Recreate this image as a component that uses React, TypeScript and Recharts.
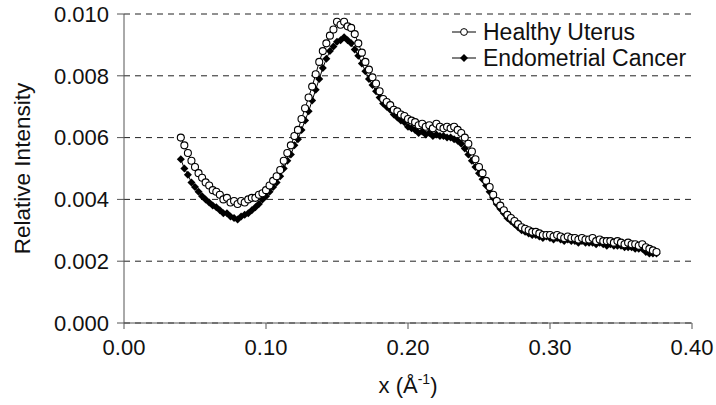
import React from "react";
import { LineChart, Line, XAxis, YAxis, CartesianGrid, Legend } from "recharts";

const xValues = [
  0.04, 0.0425, 0.045, 0.0475, 0.05, 0.0525, 0.055, 0.0575, 0.06, 0.0625,
  0.065, 0.0675, 0.07, 0.0725, 0.075, 0.0775, 0.08, 0.0825, 0.085, 0.0875,
  0.09, 0.0925, 0.095, 0.0975, 0.1, 0.1025, 0.105, 0.1075, 0.11, 0.1125,
  0.115, 0.1175, 0.12, 0.1225, 0.125, 0.1275, 0.13, 0.1325, 0.135, 0.1375,
  0.14, 0.1425, 0.145, 0.1475, 0.15, 0.1525, 0.155, 0.1575, 0.16, 0.1625,
  0.165, 0.1675, 0.17, 0.1725, 0.175, 0.1775, 0.18, 0.1825, 0.185, 0.1875,
  0.19, 0.1925, 0.195, 0.1975, 0.2, 0.2025, 0.205, 0.2075, 0.21, 0.2125,
  0.215, 0.2175, 0.22, 0.2225, 0.225, 0.2275, 0.23, 0.2325, 0.235, 0.2375,
  0.24, 0.2425, 0.245, 0.2475, 0.25, 0.2525, 0.255, 0.2575, 0.26, 0.2625,
  0.265, 0.2675, 0.27, 0.2725, 0.275, 0.2775, 0.28, 0.2825, 0.285, 0.2875,
  0.29, 0.2925, 0.295, 0.2975, 0.3, 0.3025, 0.305, 0.3075, 0.31, 0.3125,
  0.315, 0.3175, 0.32, 0.3225, 0.325, 0.3275, 0.33, 0.3325, 0.335, 0.3375,
  0.34, 0.3425, 0.345, 0.3475, 0.35, 0.3525, 0.355, 0.3575, 0.36, 0.3625,
  0.365, 0.3675, 0.37, 0.3725, 0.375,
];

const healthyUterus = [
  0.006, 0.00575, 0.0055, 0.00525, 0.00505, 0.00485, 0.0047, 0.00455, 0.00445, 0.0043,
  0.00425, 0.00415, 0.004, 0.00405, 0.0039, 0.00395, 0.00385, 0.00395, 0.0039, 0.004,
  0.00405, 0.00405, 0.00415, 0.0042, 0.0043, 0.00445, 0.0046, 0.00475, 0.00495, 0.00525,
  0.0055, 0.00575, 0.00605, 0.00625, 0.0066, 0.00695, 0.0073, 0.00765, 0.00805, 0.00845,
  0.0088, 0.00905, 0.0093, 0.0095, 0.00975, 0.00965, 0.00975, 0.0096, 0.00955, 0.00935,
  0.00905, 0.00875, 0.00845, 0.0082, 0.00795, 0.00775, 0.0075, 0.00725, 0.00715, 0.00705,
  0.0069, 0.00685, 0.00675, 0.0067, 0.0066, 0.00655, 0.0065, 0.0064, 0.00645, 0.00635,
  0.0064, 0.0063, 0.00645, 0.00635, 0.0063, 0.00635, 0.0063, 0.00635, 0.00625, 0.00615,
  0.006, 0.0058, 0.00555, 0.0053, 0.00505, 0.00485, 0.0046, 0.0044, 0.00415, 0.00395,
  0.0038, 0.00365, 0.0035, 0.0034, 0.0033, 0.0032, 0.0031, 0.00305, 0.003, 0.00295,
  0.00295, 0.0029, 0.00285, 0.00285, 0.00285, 0.0028, 0.00285, 0.0028, 0.00275, 0.0028,
  0.00275, 0.00275, 0.0027, 0.00275, 0.0027, 0.0027, 0.00275, 0.00265, 0.0027, 0.00265,
  0.00265, 0.00265, 0.0026, 0.00265, 0.0026, 0.00255, 0.0026, 0.00255, 0.00255, 0.0025,
  0.00255, 0.00245, 0.0024, 0.00235, 0.0023,
];

const endometrialCancer = [
  0.0053, 0.005, 0.0048, 0.00455, 0.0044, 0.00425, 0.0041, 0.004, 0.0039, 0.0038,
  0.00375, 0.00365, 0.00355, 0.00355, 0.00345, 0.0034, 0.00335, 0.00345, 0.0035, 0.00355,
  0.00365, 0.00375, 0.00385, 0.004, 0.0041, 0.00425, 0.0044, 0.00455, 0.00475, 0.005,
  0.00525, 0.00545, 0.00575, 0.00595, 0.00625, 0.00655, 0.00685, 0.0072, 0.00755, 0.0079,
  0.00825, 0.00855, 0.0088, 0.00895, 0.0091, 0.00915, 0.00925, 0.00915, 0.00905, 0.00885,
  0.00865, 0.0084, 0.00815, 0.0079, 0.0077, 0.0075, 0.0073, 0.0071, 0.007, 0.0069,
  0.00675, 0.00665, 0.00655, 0.0065, 0.00635, 0.0063, 0.00625, 0.00615, 0.0062, 0.0061,
  0.00615, 0.00605, 0.0061, 0.00605, 0.00605, 0.006, 0.006, 0.00595, 0.0059, 0.0058,
  0.00565, 0.00545, 0.00525, 0.00505, 0.00485, 0.00465, 0.00445, 0.00425, 0.00405, 0.00385,
  0.0037, 0.00355, 0.0034, 0.0033, 0.0032, 0.0031, 0.003, 0.00295, 0.0029, 0.00285,
  0.00285, 0.0028, 0.00275, 0.0028, 0.00275, 0.0027, 0.00275, 0.0027, 0.00265, 0.0027,
  0.00265, 0.00265, 0.0026, 0.00265, 0.0026, 0.0026, 0.0026, 0.00255, 0.0026, 0.00255,
  0.0025, 0.00255, 0.0025, 0.0025, 0.0025, 0.00245, 0.00245, 0.00245, 0.0024, 0.0024,
  0.0024, 0.0023, 0.00225, 0.00225, 0.00225,
];

const xTicks = [0, 0.1, 0.2, 0.3, 0.4];
const yTicks = [0, 0.002, 0.004, 0.006, 0.008, 0.01];
const seriesNames = ["Healthy Uterus", "Endometrial Cancer"];

const data = xValues.map((x, i) => ({
  x,
  healthy: healthyUterus[i],
  cancer: endometrialCancer[i],
}));

const FONT = '"Liberation Sans", Arial, Helvetica, sans-serif';

const HealthyDot = (p: any) => {
  const { cx, cy, index } = p;
  if (cx == null || cy == null) return <g key={`h${index}`} />;
  return <circle key={`h${index}`} cx={cx} cy={cy} r={3.5} fill="#fff" stroke="#000" strokeWidth={1.1} />;
};

const CancerDot = (p: any) => {
  const { cx, cy, index } = p;
  if (cx == null || cy == null) return <g key={`c${index}`} />;
  const s = 4;
  return (
    <path
      key={`c${index}`}
      d={`M${cx},${cy - s}L${cx + s},${cy}L${cx},${cy + s}L${cx - s},${cy}Z`}
      fill="#000"
    />
  );
};

const LegendContent = () => (
  <div style={{ fontFamily: FONT, fontSize: 23, color: "#111", lineHeight: "26px" }}>
    {seriesNames.map((name, i) => (
      <div key={name} style={{ display: "flex", alignItems: "center", whiteSpace: "nowrap" }}>
        <svg width={26} height={26} style={{ marginRight: 6 }}>
          <line x1={1} y1={13} x2={25} y2={13} stroke="#000" strokeWidth={1} />
          {i === 0 ? (
            <circle cx={13} cy={13} r={3.4} fill="#fff" stroke="#000" strokeWidth={1} />
          ) : (
            <path d="M13,9L17,13L13,17L9,13Z" fill="#000" />
          )}
        </svg>
        <span>{name}</span>
      </div>
    ))}
  </div>
);

const YTitle = (props: any) => {
  const vb = props.viewBox || {};
  const cx = vb.x - 32;
  const cy = vb.y + vb.height / 2;
  return (
    <text
      x={cx}
      y={cy}
      transform={`rotate(-90 ${cx} ${cy})`}
      textAnchor="middle"
      dominantBaseline="central"
      fontFamily={FONT}
      fontSize={22.5}
      fill="#111"
    >
      Relative Intensity
    </text>
  );
};

const XTitle = (props: any) => {
  const vb = props.viewBox || {};
  const cx = vb.x + vb.width / 2;
  const y = 393;
  return (
    <text x={cx} y={y} textAnchor="middle" fontFamily={FONT} fontSize={22} fill="#111">
      <tspan>x (Å</tspan>
      <tspan dy={-9} fontSize={14}>-1</tspan>
      <tspan dy={9}>)</tspan>
    </text>
  );
};

export default function App() {
  return (
    <div style={{ position: "absolute", top: 0, left: 0, width: 716, height: 405 }}>
      <LineChart
        width={716}
        height={405}
        data={data}
        margin={{ top: 14, right: 24, bottom: 0, left: 54 }}
      >
        <CartesianGrid vertical={false} horizontal={true} stroke="#222" strokeDasharray="6 5" />
        <XAxis
          type="number"
          dataKey="x"
          domain={[0, 0.4]}
          ticks={xTicks}
          tickFormatter={(v: number) => v.toFixed(2)}
          height={82}
          tickSize={6}
          tickMargin={10}
          stroke="#555"
          tick={{ fontFamily: FONT, fontSize: 22, fill: "#111" }}
          label={<XTitle />}
        />
        <YAxis
          type="number"
          domain={[0, 0.01]}
          ticks={yTicks}
          tickFormatter={(v: number) => v.toFixed(3)}
          width={70}
          tickSize={7}
          tickMargin={8}
          stroke="#555"
          tick={{ fontFamily: FONT, fontSize: 22, fill: "#111" }}
          label={<YTitle />}
        />
        <Legend
          content={<LegendContent />}
          layout="horizontal"
          verticalAlign="middle"
          align="center"
          wrapperStyle={{ top: 19, left: 451, width: "auto" }}
        />
        <Line
          type="linear"
          dataKey="cancer"
          name={seriesNames[1]}
          stroke="#000"
          strokeWidth={1}
          dot={CancerDot}
          activeDot={false}
          isAnimationActive={false}
        />
        <Line
          type="linear"
          dataKey="healthy"
          name={seriesNames[0]}
          stroke="#000"
          strokeWidth={1}
          dot={HealthyDot}
          activeDot={false}
          isAnimationActive={false}
        />
      </LineChart>
    </div>
  );
}
